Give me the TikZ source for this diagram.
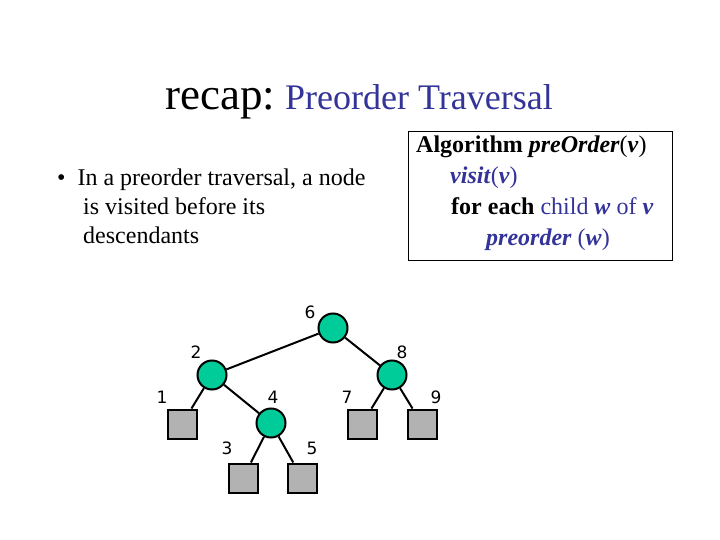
\documentclass[tikz,border=0pt]{standalone}
\usepackage{fontspec}
\setmainfont{Liberation Serif}
\newfontfamily\lbl{DejaVu Sans}
\definecolor{teal1}{HTML}{00CC99}
\definecolor{grey1}{HTML}{B2B2B2}
\definecolor{blu}{HTML}{333399}
\begin{document}
\begin{tikzpicture}[x=1pt,y=-1pt,
  inode/.style={circle,draw,line width=2pt,fill=teal1,minimum size=29pt,inner sep=0pt},
  leaf/.style={rectangle,draw,line width=2pt,fill=grey1,minimum size=29pt,inner sep=0pt},
  lab/.style={font=\lbl\fontsize{17}{17}\selectfont},
  edge/.style={line width=2pt}]
\useasboundingbox (0,0) rectangle (720,540);
\node[anchor=base west,inner sep=0] (t1) at (165,110) {\fontsize{45}{45}\selectfont recap:};
\node[anchor=base west,inner sep=0,text=blu] (t2) at (285,110) {\fontsize{36}{36}\selectfont Preorder Traversal};
\node[anchor=north west,align=left,inner sep=0,font=\fontsize{24}{29}\selectfont] (b) at (57,169)
 {\textbullet\hspace{12pt}In a preorder traversal, a node\\\hspace{26pt}is visited before its\\\hspace{26pt}descendants};
\draw[line width=1pt] (408,132) rectangle (672,260);
\node[anchor=north west,align=left,inner sep=0,font=\fontsize{24}{31}\selectfont] (alg) at (416,136)
 {\textbf{Algorithm} \textbf{\textit{preOrder}}(\textbf{\textit{v}})\\
  \hspace{34pt}\textcolor{blu}{\textbf{\textit{visit}}(\textbf{\textit{v}})}\\
  \hspace{35pt}\textbf{for each} \textcolor{blu}{child \textbf{\textit{w}} of \textbf{\textit{v}}}\\
  \hspace{70pt}\textcolor{blu}{\textbf{\textit{preorder}} (\textbf{\textit{w}})}};
\node[inode] (n6) at (333,328) {};
\node[inode] (n2) at (212,375) {};
\node[inode] (n8) at (392,375) {};
\node[inode] (n4) at (271,423) {};
\node[leaf] (n1) at (182,424) {};
\node[leaf] (n3) at (243,478) {};
\node[leaf] (n5) at (302,478) {};
\node[leaf] (n7) at (362,424) {};
\node[leaf] (n9) at (422,424) {};
\draw[edge] (n6) -- (n2); \draw[edge] (n6) -- (n8);
\draw[edge] (n2) -- (n1); \draw[edge] (n2) -- (n4);
\draw[edge] (n4) -- (n3); \draw[edge] (n4) -- (n5);
\draw[edge] (n8) -- (n7); \draw[edge] (n8) -- (n9);
\node[lab] (l6) at (310,312) {6};
\node[lab] (l2) at (196,352) {2};
\node[lab] (l8) at (402,352) {8};
\node[lab] (l1) at (162,397) {1};
\node[lab] (l4) at (273,397) {4};
\node[lab] (l7) at (347,397) {7};
\node[lab] (l9) at (436,397) {9};
\node[lab] (l3) at (227,448) {3};
\node[lab] (l5) at (312,448) {5};
\end{tikzpicture}
\end{document}
